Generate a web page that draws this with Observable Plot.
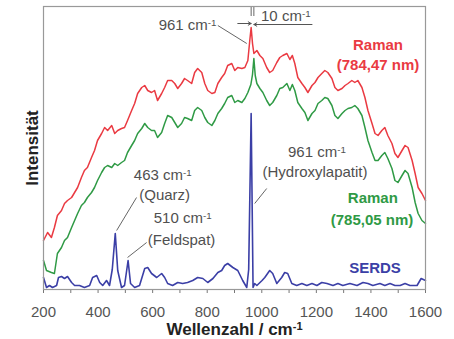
<!DOCTYPE html>
<html>
<head>
<meta charset="utf-8">
<script src="https://cdn.jsdelivr.net/npm/d3@7"></script>
<script src="https://cdn.jsdelivr.net/npm/@observablehq/plot@0.6"></script>
<style>
  html, body { margin: 0; padding: 0; background: #fff; }
</style>
</head>
<body>
<div id="chart"></div>
<script>
// [wavenumber (cm-1), intensity (arb. units)]
const ramanRed = [[200,49],[215,57],[229,52],[240,62],[251,74],[266,79],[277,86],[288,89],[303,92],[314,97],[325,102],[339,112],[350,119],[361,122],[376,132],[387,139],[398,149],[413,156],[424,162],[435,159],[450,164],[461,156],[472,159],[486,161],[497,162],[508,169],[523,179],[534,186],[545,196],[560,202],[571,204],[582,199],[596,197],[607,199],[618,189],[633,196],[644,202],[655,209],[670,209],[681,206],[692,201],[706,206],[717,211],[728,209],[743,206],[754,217],[765,221],[780,217],[791,206],[802,199],[817,196],[828,197],[839,206],[853,212],[864,216],[875,224],[890,226],[901,219],[912,222],[927,221],[938,222],[949,229],[956,249],[961,262],[966,246],[971,236],[982,239],[993,234],[1004,231],[1018,222],[1029,217],[1040,219],[1055,227],[1066,232],[1077,234],[1092,236],[1103,230],[1112,234],[1121,226],[1132,212],[1147,206],[1158,202],[1169,197],[1184,204],[1195,207],[1206,212],[1220,216],[1231,219],[1242,217],[1257,211],[1268,202],[1279,199],[1294,201],[1305,204],[1316,206],[1330,209],[1341,207],[1352,209],[1367,202],[1378,192],[1389,179],[1404,166],[1415,156],[1426,154],[1440,159],[1451,162],[1462,154],[1477,146],[1488,136],[1499,132],[1514,139],[1525,144],[1536,142],[1551,129],[1562,116],[1573,102],[1587,96],[1600,89]];

const ramanGreen = [[200,29],[211,19],[229,17],[240,16],[251,36],[266,42],[277,49],[288,52],[303,62],[314,69],[325,76],[339,84],[350,87],[361,92],[376,97],[387,102],[398,109],[413,117],[424,122],[435,124],[450,122],[461,126],[472,124],[486,127],[497,129],[508,137],[523,144],[534,149],[545,156],[560,161],[571,166],[582,162],[596,159],[607,159],[618,152],[633,157],[644,166],[655,174],[670,172],[681,167],[692,162],[706,166],[717,172],[728,171],[743,169],[754,179],[765,182],[780,179],[791,172],[802,167],[817,164],[828,169],[839,176],[853,181],[864,186],[875,192],[890,194],[901,187],[912,189],[927,187],[938,191],[949,197],[960,205],[966,215],[971,231],[976,214],[982,206],[993,201],[1004,197],[1018,189],[1029,184],[1040,187],[1055,194],[1066,201],[1077,202],[1092,206],[1103,199],[1112,205],[1121,199],[1132,187],[1147,181],[1158,177],[1169,169],[1184,176],[1195,179],[1206,186],[1220,189],[1231,192],[1242,191],[1257,184],[1268,174],[1279,171],[1294,176],[1305,179],[1316,181],[1330,182],[1341,184],[1352,181],[1367,174],[1378,162],[1389,149],[1404,137],[1415,129],[1426,129],[1440,134],[1451,137],[1462,131],[1477,121],[1488,109],[1499,107],[1514,114],[1525,119],[1536,116],[1551,102],[1562,87],[1573,76],[1587,69],[1600,66]];

const serds = [[200,12],[211,2],[222,4],[233,2],[248,4],[255,12],[266,13],[277,11],[288,13],[303,7],[314,4],[332,4],[350,2],[369,4],[380,12],[395,14],[406,7],[417,4],[431,9],[442,4],[452,20],[463,56],[472,19],[486,2],[497,4],[510,29],[519,6],[534,2],[552,4],[571,21],[582,22],[596,16],[615,12],[633,16],[644,12],[655,6],[673,4],[692,7],[710,6],[728,7],[747,9],[765,12],[784,11],[802,7],[821,11],[839,17],[853,19],[864,24],[875,26],[894,22],[912,19],[930,9],[945,2],[952,20],[961,176],[968,2],[974,6],[982,4],[1001,9],[1011,12],[1029,19],[1040,16],[1055,6],[1073,12],[1084,17],[1095,16],[1110,6],[1128,4],[1147,6],[1165,4],[1184,6],[1202,4],[1220,7],[1239,6],[1261,4],[1279,6],[1297,4],[1323,6],[1349,4],[1371,7],[1389,6],[1407,4],[1433,6],[1451,4],[1470,6],[1488,4],[1507,4],[1525,6],[1543,4],[1569,4],[1584,11],[1600,9]];

const xTicks = [200,300,400,500,600,700,800,900,1000,1100,1200,1300,1400,1500,1600];
const xLabel = "Wellenzahl / cm-1";
const yLabel = "Intensität";

const RED = "#ea3a42", GREEN = "#2f9a45", BLUE = "#3b3fa6", GRAY = "#505050";

const seriesLabels = [
  {x:1426, y:244, text:"Raman", c:RED},
  {x:1426, y:224, text:"(784,47 nm)", c:RED},
  {x:1407, y:91, text:"Raman", c:GREEN},
  {x:1404, y:69, text:"(785,05 nm)", c:GREEN},
  {x:1415, y:21, text:"SERDS", c:BLUE}
];
const peakLabels = [
  {x:728, y:264, text:"961 cm-1"},
  {x:1088, y:273, text:"10 cm-1"},
  {x:1202, y:137, text:"961 cm-1"},
  {x:1195, y:117, text:"(Hydroxylapatit)"},
  {x:637, y:114, text:"463 cm-1"},
  {x:644, y:94, text:"(Quarz)"},
  {x:710, y:71, text:"510 cm-1"},
  {x:706, y:49, text:"(Feldspat)"}
];
const leaders = [
  {x1:839, y1:264, x2:945, y2:246},
  {x1:974, y1:86, x2:1018, y2:101},
  {x1:468, y1:59, x2:541, y2:92},
  {x1:508, y1:32, x2:578, y2:47}
];
const shiftArrows = [
  {x1:912, y1:266, x2:961, y2:266},
  {x1:1184, y1:265, x2:971, y2:265}
];
const shiftMarks = [
  {x:961, y1:273, y2:282},
  {x:971, y1:273, y2:282}
];

const chart = Plot.plot({
  width: 454,
  height: 339,
  marginLeft: 43,
  marginRight: 29,
  marginTop: 6,
  marginBottom: 50,
  style: {fontFamily: "'Liberation Sans', Arial, sans-serif", background: "#fff", color: "#555"},
  x: {domain: [200, 1600]},
  y: {domain: [0, 283], axis: null},
  marks: [
    Plot.axisX({ticks: xTicks, tickFormat: d => d % 200 === 0 ? String(d) : "", tickSize: 4, tickPadding: 13, fontSize: 15, label: null, stroke: "#777", fill: "#555"}),
    Plot.line(ramanRed, {x: d => d[0], y: d => d[1], stroke: RED, strokeWidth: 1.5}),
    Plot.line(ramanGreen, {x: d => d[0], y: d => d[1], stroke: GREEN, strokeWidth: 1.5}),
    Plot.line(serds, {x: d => d[0], y: d => d[1], stroke: BLUE, strokeWidth: 1.6}),
    Plot.link(leaders, {x1: "x1", y1: "y1", x2: "x2", y2: "y2", stroke: "#666", strokeWidth: 1}),
    Plot.arrow(shiftArrows, {x1: "x1", y1: "y1", x2: "x2", y2: "y2", stroke: "#555", strokeWidth: 1, headLength: 5}),
    Plot.ruleX(shiftMarks, {x: "x", y1: "y1", y2: "y2", stroke: "#666", strokeWidth: 1}),
    Plot.text(peakLabels, {x: "x", y: "y", text: "text", fill: GRAY, fontSize: 15}),
    Plot.text(seriesLabels, {x: "x", y: "y", text: "text", fill: "c", fontSize: 15, fontWeight: "bold"}),
    Plot.text([xLabel], {frameAnchor: "bottom", lineAnchor: "middle", dy: 40, fill: "#222", fontSize: 17, fontWeight: "bold"}),
    Plot.text([yLabel], {frameAnchor: "left", textAnchor: "middle", lineAnchor: "middle", dx: -11, rotate: -90, fill: "#222", fontSize: 17, fontWeight: "bold"}),
    Plot.frame({stroke: "#999", strokeWidth: 1.2})
  ]
});

// superscript "-1" in cm-1 labels
d3.select(chart).selectAll("text").each(function() {
  const t = this.textContent;
  if (t.endsWith("cm-1") && this.childElementCount === 0) {
    this.textContent = t.slice(0, -2);
    d3.select(this).append("tspan").attr("dy", "-0.45em").attr("font-size", "0.65em").text("-1");
  }
});

document.getElementById("chart").appendChild(chart);
</script>
</body>
</html>
